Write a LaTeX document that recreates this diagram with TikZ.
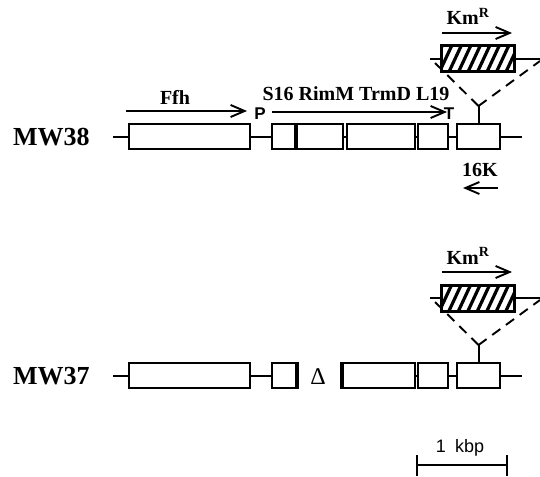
\documentclass[tikz,border=0pt]{standalone}
\usepackage{fontspec}
\setmainfont{Liberation Serif}
\newfontfamily\sansf{Liberation Sans}
\usetikzlibrary{arrows.meta}
\newcommand{\kmcassette}[3]{%
\begin{scope}[yshift=#2]
 \node[lbl] (kmlab#1) at (468,25) {Km\textsuperscript{R}};
 \coordinate (kmS#1) at (442,33); \coordinate (kmE#1) at (512,33);
 \draw[dir] (kmS#1) -- (kmE#1);
 \coordinate (lnL#1) at (430,59); \coordinate (lnR#1) at (540,59);
 \draw[dna] (lnL#1) -- (lnR#1);
 \node[gene, minimum width=72pt] (km#1) at (478,59) {};
 \begin{scope}
  \clip (km#1.south west) rectangle (km#1.north east);
  \foreach \i in {0,...,9} \draw[line width=3.2pt] ({429+\i*9.5},74) -- ({443+\i*9.5},44);
 \end{scope}
 \draw[line width=2pt] (km#1.south west) rectangle (km#1.north east);
 \coordinate (dl#1) at (431,59); \coordinate (dr#1) at (540,61);
 \coordinate (yv#1) at (478.5,106);
 \draw[ins] (yv#1) -- (dl#1);
 \draw[ins] (yv#1) -- (dr#1);
\end{scope}
\draw[dna] (#3.north) -- (yv#1);}
\begin{document}
\begin{tikzpicture}[x=1pt,y=-1pt,
  gene/.style={draw, line width=2pt, fill=white, rectangle, inner sep=0pt, minimum height=25pt},
  dna/.style={line width=2pt},
  dir/.style={line width=1.9pt, -{Straight Barb[length=14pt,width=12pt]}},
  ins/.style={line width=1.9pt, dash pattern=on 10pt off 7pt},
  lbl/.style={inner sep=0pt, anchor=base, font=\fontsize{20}{20}\selectfont\bfseries},
  strain/.style={inner sep=0pt, anchor=base west, font=\fontsize{26}{26}\selectfont\bfseries},
  ptl/.style={inner sep=0pt, anchor=base, font=\sansf\fontsize{17}{17}\selectfont\bfseries},
]
\useasboundingbox (0,0) rectangle (540,476);

% ---------- MW38 ----------
\node[strain] (mw38) at (13,145) {MW38};
\coordinate (L38) at (113,136.5);
\coordinate (R38) at (522,136.5);
\node[gene, minimum width=121pt] (ffhA) at (189.5,136.5) {};
\node[gene, minimum width=23pt]  (s16A) at (283.5,136.5) {};
\node[gene, minimum width=48pt]  (rimA) at (319,136.5) {};
\node[gene, minimum width=68pt]  (trmA) at (381,136.5) {};
\node[gene, minimum width=30pt]  (l19A) at (433,136.5) {};
\node[gene, minimum width=43pt]  (k16A) at (478.5,136.5) {};
\draw[line width=3.2pt] (s16A.north east) -- (s16A.south east);
\draw[dna] (L38) -- (ffhA.west) (ffhA.east) -- (s16A.west)
  (rimA.east) -- (trmA.west) (trmA.east) -- (l19A.west)
  (l19A.east) -- (k16A.west) (k16A.east) -- (R38);

\node[lbl] (ffhlab) at (175,104) {Ffh};
\coordinate (ffhS) at (126,111); \coordinate (ffhE) at (247,111);
\draw[dir] (ffhS) -- (ffhE);
\node[lbl] (oplab) at (356,100) {S16 RimM TrmD L19};
\node[ptl] (P) at (260,120) {P};
\node[ptl] (T) at (449,120) {T};
\coordinate (opS) at (272,112); \coordinate (opE) at (447,112);
\draw[dir] (opS) -- (opE);

\node[lbl] (k16lab) at (480,176) {16K};
\coordinate (k16S) at (498,188); \coordinate (k16E) at (463,188);
\draw[dir] (k16S) -- (k16E);

\kmcassette{A}{0pt}{k16A}

% ---------- MW37 ----------
\node[strain] (mw37) at (13,384) {MW37};
\coordinate (L37) at (113,375.5);
\coordinate (R37) at (522,375.5);
\node[gene, minimum width=121pt] (ffhB) at (189.5,375.5) {};
\node[gene, minimum width=24pt]  (s16B) at (284,375.5) {};
\node[gene, minimum width=72pt]  (trmB) at (379,375.5) {};
\node[gene, minimum width=30pt]  (l19B) at (433,375.5) {};
\node[gene, minimum width=43pt]  (k16B) at (478.5,375.5) {};
\draw[line width=4.5pt] (s16B.north east) -- (s16B.south east);
\draw[line width=4.5pt] (trmB.north west) -- (trmB.south west);
\draw[dna] (L37) -- (ffhB.west) (ffhB.east) -- (s16B.west)
  (trmB.east) -- (l19B.west) (l19B.east) -- (k16B.west) (k16B.east) -- (R37);
\node[inner sep=0pt, anchor=base, font=\fontsize{24}{24}\selectfont] (delta) at (318,384) {Δ};

\kmcassette{B}{-239pt}{k16B}

% ---------- scale bar ----------
\coordinate (sbL) at (417,465); \coordinate (sbR) at (507,465);
\coordinate (sbLt) at (417,455); \coordinate (sbLb) at (417,476);
\coordinate (sbRt) at (507,455); \coordinate (sbRb) at (507,476);
\draw[line width=1.8pt] (sbL) -- (sbR);
\draw[line width=1.8pt] (sbLt) -- (sbLb) (sbRt) -- (sbRb);
\node[inner sep=0pt, anchor=base, font=\sansf\fontsize{18}{18}\selectfont] (sblab) at (460,452) {1\hspace{9pt}kbp};
\end{tikzpicture}
\end{document}
